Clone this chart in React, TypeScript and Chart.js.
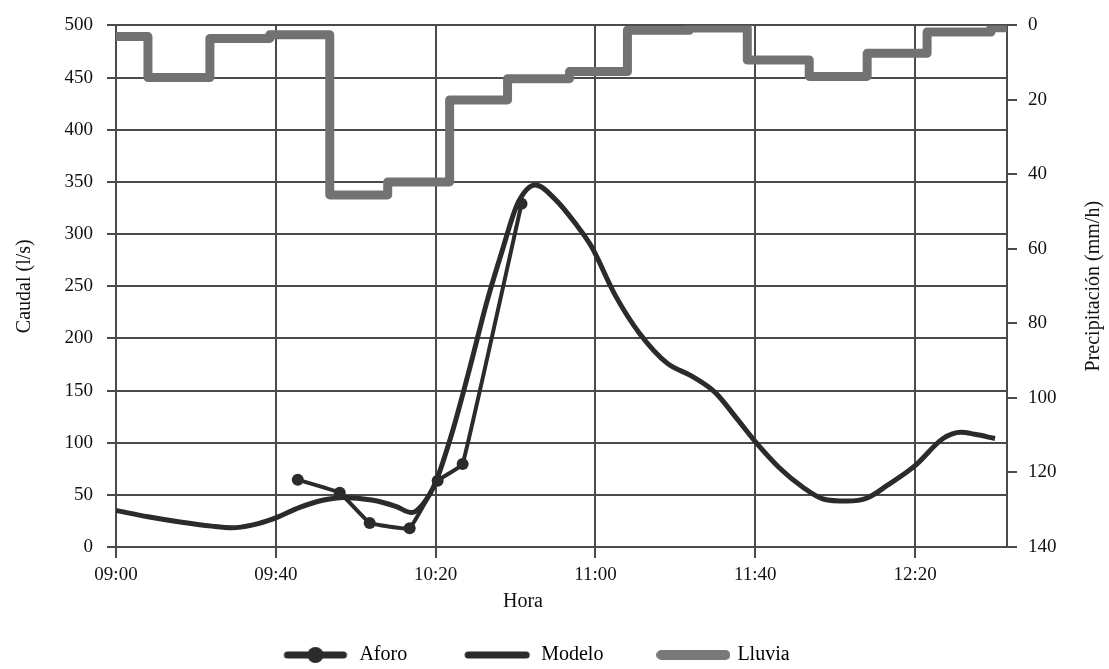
import React, { useEffect, useRef } from "react";
import { Chart, registerables } from "chart.js";

Chart.register(...registerables);

// minutes after 09:00
const modeloTimes = [0, 8, 16, 24, 29, 34, 40, 46, 52, 57, 64, 70, 74, 77, 80, 84, 88.5, 92.75, 96.5, 100.5, 105, 110, 115, 119, 125, 131, 138, 144, 150, 155, 160, 166, 172, 177, 183, 188, 193, 200, 207, 211.5, 215, 220];
const modeloValues = [35, 29, 24, 20, 18.5, 21, 28, 38, 45, 47.5, 45, 39, 33, 42, 62, 108, 171, 234, 282, 329, 347, 333, 310, 288, 241, 205, 176, 164, 148, 125, 101, 76, 57, 46, 44, 47, 59, 78, 104, 110, 108, 104];

const aforoTimes = [45.5, 56, 63.5, 73.5, 80.5, 86.75, 101.5];
const aforoValues = [64.5, 52, 23, 18, 63.5, 79.5, 329];

const lluviaTimes = [0, 8, 23.5, 38.5, 53.5, 68, 83.5, 98, 113.5, 128, 143.5, 158, 173.5, 188, 203, 219, 222.5];
const lluviaValues = [3, 14, 3.5, 2.5, 45.5, 42, 20, 14.3, 12.4, 1.3, 0.7, 9.3, 13.7, 7.5, 1.8, 0.6, 0.6];

const xTickValues = [0, 40, 80, 120, 160, 200];
const seriesNames = ["Aforo", "Modelo", "Lluvia"];
const xTitle = "Hora";
const yTitle = "Caudal (l/s)";
const y2Title = "Precipitación (mm/h)";

const FONT = "'Liberation Serif', 'Times New Roman', serif";
const DARK = "#2b2b2b";
const GRAY = "#727272";
const GRID = "#4a4a4a";

function fmtTime(v: number) {
  const h = 9 + Math.floor(v / 60);
  const m = Math.round(v % 60);
  return String(h).padStart(2, "0") + ":" + String(m).padStart(2, "0");
}

function makeSwatch(kind: string) {
  const c = document.createElement("canvas");
  const w = kind === "Lluvia" ? 74 : kind === "Modelo" ? 68 : 66;
  c.width = w;
  c.height = 18;
  const ctx = c.getContext("2d")!;
  ctx.lineCap = "round";
  ctx.strokeStyle = kind === "Lluvia" ? "#787878" : DARK;
  ctx.lineWidth = kind === "Lluvia" ? 10 : 7;
  ctx.beginPath();
  ctx.moveTo(5, 9);
  ctx.lineTo(w - 5, 9);
  ctx.stroke();
  if (kind === "Aforo") {
    ctx.fillStyle = DARK;
    ctx.beginPath();
    ctx.arc(w / 2, 9, 8, 0, Math.PI * 2);
    ctx.fill();
  }
  return c;
}

const titlesPlugin = {
  id: "customTitles",
  afterDraw(chart: any) {
    const { ctx, chartArea } = chart;
    const midY = (chartArea.top + chartArea.bottom) / 2;
    ctx.save();
    ctx.fillStyle = "#111";
    ctx.font = "20px " + FONT;
    ctx.textAlign = "center";
    ctx.textBaseline = "middle";
    ctx.fillText(xTitle, 523, 602);
    ctx.save();
    ctx.translate(25, midY);
    ctx.rotate(-Math.PI / 2);
    ctx.fillText(yTitle, 0, 0);
    ctx.restore();
    ctx.save();
    ctx.translate(1094, midY);
    ctx.rotate(-Math.PI / 2);
    ctx.fillText(y2Title, 0, 0);
    ctx.restore();
    ctx.restore();
  },
};

export default function App() {
  const ref = useRef<HTMLCanvasElement | null>(null);

  useEffect(() => {
    if (!ref.current) return;
    const swatches: Record<string, HTMLCanvasElement> = {};
    seriesNames.forEach((n) => (swatches[n] = makeSwatch(n)));

    const chart = new Chart(ref.current, {
      type: "line",
      data: {
        datasets: [
          {
            label: seriesNames[0],
            data: aforoTimes.map((t, i) => ({ x: t, y: aforoValues[i] })),
            borderColor: DARK,
            backgroundColor: DARK,
            borderWidth: 4,
            pointRadius: 6,
            pointBackgroundColor: DARK,
            pointBorderWidth: 0,
            tension: 0.08,
            yAxisID: "y",
          },
          {
            label: seriesNames[1],
            data: modeloTimes.map((t, i) => ({ x: t, y: modeloValues[i] })),
            borderColor: DARK,
            backgroundColor: DARK,
            borderWidth: 5,
            pointRadius: 0,
            cubicInterpolationMode: "monotone",
            yAxisID: "y",
          },
          {
            label: seriesNames[2],
            data: lluviaTimes.map((t, i) => ({ x: t, y: lluviaValues[i] })),
            borderColor: GRAY,
            backgroundColor: GRAY,
            borderWidth: 9,
            pointRadius: 0,
            stepped: "before",
            borderJoinStyle: "round",
            borderCapStyle: "round",
            yAxisID: "y2",
          },
        ],
      },
      options: {
        animation: false,
        responsive: true,
        maintainAspectRatio: false,
        layout: { padding: { left: 0, right: 38, top: 20, bottom: -6 } },
        plugins: {
          tooltip: { enabled: false },
          legend: {
            position: "bottom",
            labels: {
              font: { family: FONT, size: 20 },
              color: "#111",
              usePointStyle: true,
              pointStyleWidth: 68,
              padding: 56,
              generateLabels: () =>
                seriesNames.map((n, i) => ({
                  text: n,
                  pointStyle: swatches[n],
                  fillStyle: "transparent",
                  strokeStyle: "transparent",
                  lineWidth: 0,
                  hidden: false,
                  datasetIndex: i,
                })),
            },
          },
        },
        scales: {
          x: {
            type: "linear",
            min: 0,
            max: 223,
            afterFit: (s: any) => {
              s.height = 42;
            },
            afterBuildTicks: (s: any) => {
              s.ticks = xTickValues.map((v) => ({ value: v }));
            },
            ticks: {
              font: { family: FONT, size: 19 },
              color: "#111",
              padding: 6,
              maxRotation: 0,
              autoSkip: false,
              callback: (v: any) => fmtTime(Number(v)),
            },
            grid: { color: GRID, lineWidth: 2, tickLength: 11, tickColor: GRID },
            border: { color: GRID, width: 2 },
          },
          y: {
            position: "left",
            min: 0,
            max: 500,
            afterFit: (s: any) => {
              s.width = 116;
            },
            ticks: {
              stepSize: 50,
              font: { family: FONT, size: 19 },
              color: "#111",
              padding: 14,
            },
            grid: { color: GRID, lineWidth: 2, tickLength: 9, tickColor: GRID },
            border: { color: GRID, width: 2 },
          },
          y2: {
            position: "right",
            min: 0,
            max: 140,
            reverse: true,
            afterFit: (s: any) => {
              s.width = 64;
            },
            ticks: {
              stepSize: 20,
              font: { family: FONT, size: 19 },
              color: "#111",
              padding: 11,
            },
            grid: { drawOnChartArea: false, color: GRID, lineWidth: 2, tickLength: 10, tickColor: GRID },
            border: { color: GRID, width: 2 },
          },
        },
      },
      plugins: [titlesPlugin],
    } as any);

    return () => chart.destroy();
  }, []);

  return (
    <div style={{ position: "fixed", left: 0, top: 0, width: 1109, height: 669, background: "#fff" }}>
      <canvas ref={ref} />
    </div>
  );
}
